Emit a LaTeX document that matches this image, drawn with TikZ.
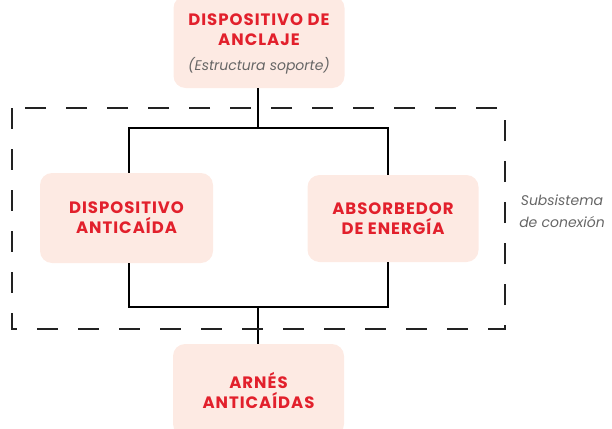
\documentclass[tikz,border=0pt]{standalone}
\usepackage{fontspec}
\setmainfont{Poppins}
\newfontfamily\boxfont[LetterSpace=6]{Poppins}
\definecolor{boxfill}{HTML}{FDEAE3}
\definecolor{boxred}{HTML}{E2202C}
\definecolor{txtgray}{HTML}{666666}
\definecolor{linegray}{HTML}{222222}
\begin{document}
\begin{tikzpicture}[x=1pt,y=-1pt,
  boxtext/.style={text=boxred,font=\boxfont\fontsize{16.5}{20}\selectfont\bfseries,align=center,inner sep=0pt},
  boxnode/.style={fill=boxfill,rounded corners=12pt,inner sep=0pt,align=center,
    text=boxred,font=\boxfont\fontsize{16.5}{20}\selectfont\bfseries},
  conn/.style={draw=black,line width=2pt},
  frame/.style={draw=linegray,line width=1.1pt,dash pattern=on 21pt off 20pt},
  note/.style={text=txtgray,font=\fontsize{14}{22}\selectfont\itshape,align=center,inner sep=0pt}]
\useasboundingbox (0,0) rectangle (612,428);
\node[boxnode,minimum width=171pt,minimum height=92pt] (top) at (259,42) {};
\node[boxtext] (toptxt) at (259,30) {DISPOSITIVO DE\\ANCLAJE};
\node[note] (topnote) at (259,66) {(Estructura soporte)};
\node[boxnode,minimum width=173pt,minimum height=90pt] (left) at (126.5,218) {DISPOSITIVO\\ANTICAÍDA};
\node[boxnode,minimum width=171pt,minimum height=87pt] (right) at (393,218.5) {ABSORBEDOR\\DE ENERGÍA};
\node[boxnode,minimum width=171pt,minimum height=92pt] (bot) at (258.5,390) {ARNÉS\\ANTICAÍDAS};
\node[note] (sub) at (562,211) {Subsistema\\de conexión};
\coordinate (jt) at (258,128);
\coordinate (jb) at (258,307);
\coordinate (lx) at (129,0);
\coordinate (rx) at (388,0);
\draw[conn] (top.south -| jt) -- (jt);
\draw[conn] (lx |- left.north) -- (lx |- jt) -- (rx |- jt) -- (rx |- right.north);
\draw[conn] (lx |- left.south) -- (lx |- jb) -- (rx |- jb) -- (rx |- right.south);
\draw[conn] (jb) -- (jb |- bot.north);
\coordinate (f1) at (12,108);
\coordinate (f2) at (505,329);
\draw[frame] (f1) rectangle (f2);
\end{tikzpicture}
\end{document}
